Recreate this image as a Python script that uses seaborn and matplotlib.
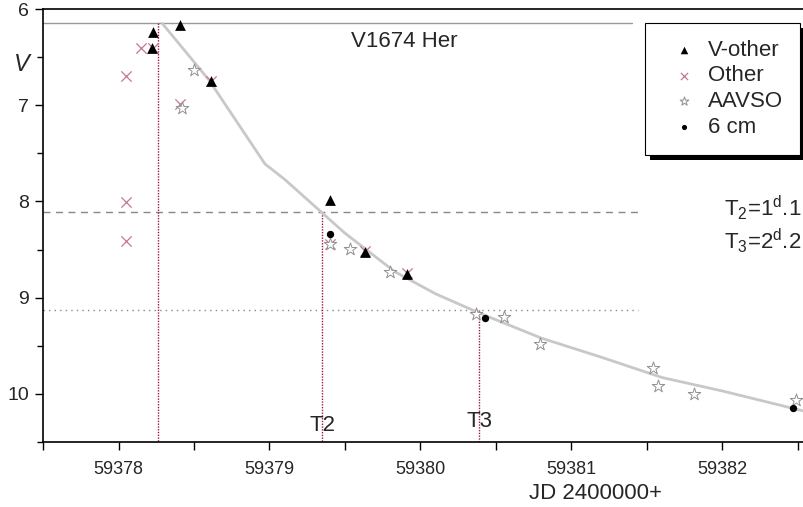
import numpy as np
import pandas as pd
import seaborn as sns
import matplotlib.pyplot as plt
from matplotlib.patches import Rectangle
from matplotlib.ticker import MultipleLocator

# light curve data of V1674 Her (JD - 2400000, V mag)
vother_jd = [59378.23, 59378.22, 59378.41, 59378.61, 59379.40, 59379.63, 59379.91]
vother_mag = [6.24, 6.40, 6.17, 6.75, 7.98, 8.53, 8.75]

other_jd = [59378.05, 59378.05, 59378.05, 59378.15, 59378.23, 59378.41, 59378.61, 59379.40, 59379.63, 59379.91]
other_mag = [6.70, 8.01, 8.41, 6.41, 6.40, 6.99, 6.75, 8.44, 8.52, 8.74]

aavso_jd = [59378.50, 59378.42, 59379.40, 59379.53, 59379.80, 59380.37, 59380.55,
            59380.79, 59381.54, 59381.57, 59381.81, 59382.49]
aavso_mag = [6.63, 7.03, 8.44, 8.49, 8.73, 9.17, 9.20, 9.48, 9.73, 9.92, 10.00, 10.06]

cm6_jd = [59379.40, 59380.43, 59382.47]
cm6_mag = [8.34, 9.21, 10.15]

fit_jd = [59378.29, 59378.60, 59378.97, 59379.10, 59379.35, 59379.50, 59379.83,
          59380.10, 59380.39, 59380.80, 59381.20, 59381.60, 59382.00, 59382.57]
fit_mag = [6.15, 6.74, 7.61, 7.77, 8.12, 8.33, 8.73, 8.96, 9.16, 9.42, 9.62, 9.83, 9.97, 10.19]

t0_jd, t2_jd, t3_jd = 59378.26, 59379.35, 59380.39
peak_mag, t2_mag, t3_mag = 6.15, 8.11, 9.125

sns.set_style("ticks")
plt.rcParams['font.family'] = ['Liberation Sans', 'DejaVu Sans']
plt.rcParams['mathtext.fontset'] = 'custom'
plt.rcParams['mathtext.rm'] = 'Liberation Sans'
plt.rcParams['mathtext.it'] = 'Liberation Sans:italic'

fig = plt.figure(figsize=(8.04, 5.07), dpi=100)
ax = fig.add_axes([0.0535, 0.1282, 0.9465, 0.854])

# fitted curve
sns.lineplot(x=fit_jd, y=fit_mag, sort=False, color='#c8c8c8', lw=2, ax=ax, zorder=2)

# reference lines
ax.plot([59377.5, 59381.40], [peak_mag, peak_mag], color='#999999', lw=1, zorder=1)
ax.plot([59377.5, 59381.45], [t2_mag, t2_mag], color='#888888', lw=1, ls=(0, (5, 4)), zorder=1)
ax.plot([59377.5, 59381.44], [t3_mag, t3_mag], color='#888888', lw=1, ls=(0, (1, 3)), zorder=1)
ax.plot([t0_jd, t0_jd], [peak_mag, 10.5], color='#a0183c', lw=1, ls=(0, (1, 1)), zorder=1)
ax.plot([t2_jd, t2_jd], [t2_mag, 10.5], color='#a0183c', lw=1, ls=(0, (1, 1)), zorder=1)
ax.plot([t3_jd, t3_jd], [t3_mag, 10.5], color='#a0183c', lw=1, ls=(0, (1, 1)), zorder=1)

# data points
sns.scatterplot(x=other_jd, y=other_mag, marker='x', color='#c87890', s=55, linewidth=0.9,
                label='Other', ax=ax, zorder=3)
sns.scatterplot(x=aavso_jd, y=aavso_mag, marker='*', facecolor='white', edgecolor='#909090',
                s=90, linewidth=0.7, label='AAVSO', ax=ax, zorder=3)
sns.scatterplot(x=vother_jd, y=vother_mag, marker='^', color='black', s=60, linewidth=0,
                label='V-other', ax=ax, zorder=4)
sns.scatterplot(x=cm6_jd, y=cm6_mag, marker='o', color='black', s=28, linewidth=0,
                label='6 cm', ax=ax, zorder=4)

ax.set_xlim(59377.5, 59382.54)
ax.set_ylim(10.5, 6)
ax.xaxis.set_major_locator(MultipleLocator(1))
ax.xaxis.set_minor_locator(MultipleLocator(0.5))
ax.yaxis.set_major_locator(MultipleLocator(1))
ax.yaxis.set_minor_locator(MultipleLocator(0.5))
ax.xaxis.get_major_formatter().set_useOffset(False)
ax.tick_params(axis='x', which='major', length=6, width=1, color='black', labelsize=13, pad=8)
ax.tick_params(axis='x', which='minor', length=6, width=1, color='black')
ax.tick_params(axis='y', which='major', length=6, width=1, color='black', labelsize=14, pad=4)
ax.tick_params(axis='y', which='minor', length=4, width=1, color='black')
for side in ['left', 'bottom', 'top']:
    ax.spines[side].set_color('black')
    ax.spines[side].set_linewidth(1.2)
ax.spines['right'].set_visible(False)
ax.set_xlabel('')
ax.set_ylabel('')

# texts
ax.text(59379.89, 6.34, 'V1674 Her', fontsize=16, ha='center', va='center')
ax.text(-0.028, 0.871, 'V', fontsize=17, style='italic', ha='center', va='center',
        transform=ax.transAxes)
ax.text(t2_jd, 10.33, 'T2', fontsize=16, ha='center', va='center')
ax.text(t3_jd, 10.29, 'T3', fontsize=16, ha='center', va='center')
ax.text(59381.16, 11.04, 'JD 2400000+', fontsize=16, ha='center', va='center', clip_on=False)
ax.text(59382.52, 8.06, r'T$_2$=1$^\mathregular{d}$.1', fontsize=16, ha='right', va='center')
ax.text(59382.52, 8.41, r'T$_3$=2$^\mathregular{d}$.2', fontsize=16, ha='right', va='center')

# legend with solid black shadow
handles, labels = ax.get_legend_handles_labels()
order = [labels.index(n) for n in ['V-other', 'Other', 'AAVSO', '6 cm']]
leg = ax.legend([handles[i] for i in order], [labels[i] for i in order],
                loc='upper left', bbox_to_anchor=(0.791, 0.968), borderaxespad=0,
                fontsize=16, frameon=True, fancybox=False, edgecolor='black', framealpha=1,
                handletextpad=0.1, labelspacing=0.22, borderpad=0.75, markerscale=0.7)
leg.get_frame().set_linewidth(0.8)
leg.set_zorder(10)
fig.canvas.draw()
bb = leg.get_window_extent()
shadow = Rectangle((bb.x0 + 5, bb.y0 - 5), bb.width, bb.height, transform=None,
                   facecolor='black', edgecolor='none', zorder=9)
ax.add_artist(shadow)

fig.savefig('out.png', dpi=100)
